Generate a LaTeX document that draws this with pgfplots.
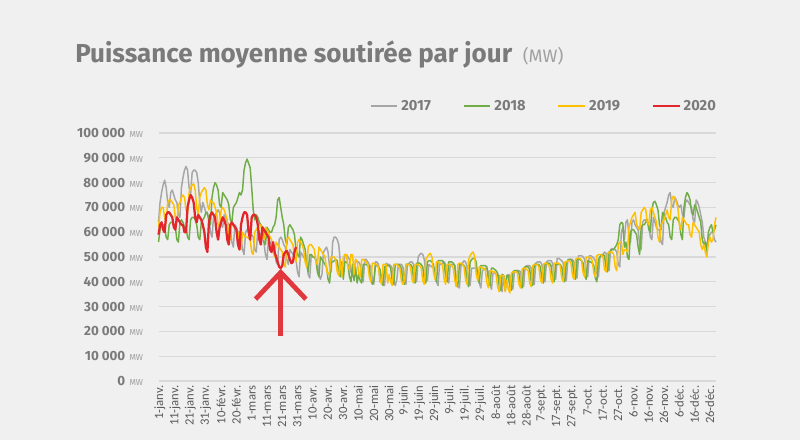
\documentclass[border=0pt]{standalone}
\usepackage{fontspec}
\setmainfont{Fira Sans}
\newfontfamily\carlito{Carlito}
\usepackage{pgfplots}
\usepackage{pgfplotstable}
\pgfplotsset{compat=1.18}
\definecolor{bg}{HTML}{F0F0F0}
\definecolor{txtgray}{HTML}{7A7A7A}
\definecolor{mwgray}{HTML}{A0A0A0}
\definecolor{xtgray}{HTML}{5A5A5A}
\definecolor{gridc}{HTML}{D9D9D9}
\definecolor{c17}{HTML}{A6A6A6}
\definecolor{c18}{HTML}{70AD47}
\definecolor{c19}{HTML}{FFC000}
\definecolor{c20}{HTML}{E3262B}
\definecolor{arrowc}{HTML}{E0383C}
\newcommand\tsp{\hspace{0.22em}}
\newcommand\yl[1]{#1\hspace{3pt}{\mdseries\fontsize{6.5}{7}\selectfont\color{mwgray}MW}}

% x = day of the (leap) year axis, a = 2017, b = 2018, c = 2019, e = 2020 (MW)
\pgfplotstableread{
x a b c e
0 64000 56000 62000 59000
1 72000 61000 68000 63000
2 76000 63000 70000 64000
3 79000 63000 70000 61000
4 81000 62000 66000 60000
5 78000 58000 64000 67000
6 72000 57000 72000 68000
7 70000 63000 73000 68000
8 76000 64000 73000 67000
9 77000 64000 72000 66000
10 75000 63000 71000 62000
11 73000 62000 66000 61000
12 72000 57000 64000 66000
13 67000 56000 71000 65000
14 66000 64000 72000 64000
15 78000 65000 74000 63000
16 82000 64000 75000 63000
17 85000 62000 74000 60000
18 86500 62000 69000 60000
19 85000 58000 68000 70000
20 78000 57000 76000 73000
21 75000 65000 78000 75000
22 84000 66000 79000 74000
23 85000 66000 79500 72000
24 85000 65000 77000 66000
25 84000 63000 70000 64000
26 80000 58000 67000 67000
27 72000 57000 74000 66000
28 68000 64000 76000 65000
29 72000 65000 77000 63000
30 70000 66000 78000 60000
31 68000 68000 77000 54000
32 67000 68000 71000 52000
33 66000 64000 69000 64000
34 60000 63000 73000 67000
35 58000 74000 72000 68000
36 66000 78000 72000 67000
37 67000 80000 70000 66000
38 68000 79000 68000 60000
39 69000 77000 63000 57000
40 68000 71000 62000 62000
41 63000 70000 69000 64000
42 62000 76000 70000 66000
43 67000 75000 69000 65000
44 66000 74000 67000 63000
45 64000 73000 65000 57000
46 63000 71000 59000 55000
47 62000 65000 57000 63000
48 56000 64000 64000 64000
49 54000 70000 63000 63000
50 63000 71000 62000 62000
51 62000 72000 61000 61000
52 60000 74000 60000 55000
53 60000 76000 55000 53000
54 58000 75000 53000 63000
55 53000 77000 60000 66000
56 51000 85000 59000 68000
57 60000 88000 58000 68000
58 61000 89500 58000 67000
59 nan nan nan 60000
60 60000 86000 57000 57000
61 59000 78000 52000 66000
62 58000 69000 51000 67000
63 53000 65000 60000 67000
64 52000 67000 61000 66000
65 61000 66000 62000 63000
66 60000 64000 63000 57000
67 59000 63000 63000 55000
68 58000 62000 58000 62000
69 56000 56000 57000 61000
70 51000 55000 62000 60000
71 49000 62000 61000 59000
72 57000 61000 60000 58000
73 56000 60000 58000 53000
74 55000 60000 57000 52000
75 54000 62000 52000 56000
76 53000 63000 50000 52000
77 48000 66000 56000 50000
78 47000 73000 55000 48000
79 57000 74000 54000 46000
80 58000 70000 53000 45500
81 57000 66000 52000 46500
82 55000 63000 47000 51000
83 54000 57000 46000 52000
84 49000 55000 57000 52500
85 47000 62000 58000 51000
86 53000 63000 57000 49000
87 52000 62000 56000 47500
88 51000 61000 55000 48000
89 50000 59000 50000 52000
90 49000 53000 48000 54000
91 44000 51000 56000 nan
92 42000 50000 57000 nan
93 52000 58000 56000 nan
94 51000 57000 55000 nan
95 50000 55000 53000 nan
96 49000 53000 48000 nan
97 48000 47000 46000 nan
98 43000 44000 54000 nan
99 41500 51000 55000 nan
100 51000 51000 55000 nan
101 50000 50000 54000 nan
102 50000 50000 53000 nan
103 49000 49000 48000 nan
104 48000 44000 47000 nan
105 43000 42000 54000 nan
106 41000 50000 53000 nan
107 43000 49000 52000 nan
108 52000 48000 51000 nan
109 53000 47000 50000 nan
110 54000 46000 45000 nan
111 52000 41000 43000 nan
112 46000 39500 44000 nan
113 44000 48000 50000 nan
114 56000 48000 50000 nan
115 58000 48500 50000 nan
116 58000 49000 49000 nan
117 57000 48500 44000 nan
118 55000 44000 42500 nan
119 48000 42000 49000 nan
120 45000 48000 42000 nan
121 43000 41000 50000 nan
122 51000 48000 51000 nan
123 51000 48000 51000 nan
124 50000 47000 46000 nan
125 49000 42000 45000 nan
126 44000 40000 51000 nan
127 42000 47000 51000 nan
128 42000 40500 43000 nan
129 49000 46000 49000 nan
130 48000 39500 48500 nan
131 48000 43000 43500 nan
132 47000 40500 42000 nan
133 42000 39500 49000 nan
134 40000 47000 49000 nan
135 49000 47000 48500 nan
136 49000 47000 48000 nan
137 48000 46500 47000 nan
138 47000 46000 42000 nan
139 46000 41000 40000 nan
140 41000 39000 47500 nan
141 39000 40500 47500 nan
142 48000 46500 47000 nan
143 48000 46500 47000 nan
144 47000 46000 46000 nan
145 40000 45000 41000 nan
146 43000 40000 39000 nan
147 39500 38500 47000 nan
148 38500 46000 47000 nan
149 47500 46500 47000 nan
150 47000 46500 39500 nan
151 47000 46500 43000 nan
152 46500 45500 40000 nan
153 45500 40500 38500 nan
154 40500 39000 47000 nan
155 38500 47000 47000 nan
156 41000 47000 47000 nan
157 47000 47000 46500 nan
158 47000 46500 45500 nan
159 47000 45500 40500 nan
160 46000 40500 39000 nan
161 41000 39000 40500 nan
162 39000 47000 47000 nan
163 47000 47000 47000 nan
164 47500 47000 47000 nan
165 48000 47000 46000 nan
166 48000 46000 41000 nan
167 47000 41000 39500 nan
168 42000 39500 47000 nan
169 40000 47500 47000 nan
170 50000 47500 47000 nan
171 51000 47500 46500 nan
172 51500 47000 45500 nan
173 51000 46000 40500 nan
174 49000 41000 39000 nan
175 43000 39500 49000 nan
176 40500 48000 50000 nan
177 47000 48500 51000 nan
178 46500 48500 51500 nan
179 46000 48000 50000 nan
180 46000 47000 44000 nan
181 45000 42000 41000 nan
182 40000 40000 48000 nan
183 38500 48500 48000 nan
184 47000 48500 47500 nan
185 47000 48500 47500 nan
186 47500 48500 46500 nan
187 48000 47500 41000 nan
188 47000 42000 39000 nan
189 42000 40000 47000 nan
190 39500 48000 47000 nan
191 47000 48000 47000 nan
192 47000 48000 46500 nan
193 47000 47500 45500 nan
194 46500 46500 40500 nan
195 38500 39500 38000 nan
196 38000 38500 47000 nan
197 37500 47000 47500 nan
198 46500 47000 47500 nan
199 47500 47000 47000 nan
200 48500 46500 46000 nan
201 48000 45500 41000 nan
202 46000 40000 39000 nan
203 41000 38000 49000 nan
204 38500 48000 50500 nan
205 45500 49000 51500 nan
206 45500 49500 52000 nan
207 45500 49500 50000 nan
208 45000 48000 43000 nan
209 44000 42000 40500 nan
210 39500 39500 46000 nan
211 37500 46500 46000 nan
212 44500 46500 45500 nan
213 45000 46500 45500 nan
214 45500 46500 44500 nan
215 45000 46000 39500 nan
216 44000 41000 37500 nan
217 39000 38500 44500 nan
218 37000 45500 44500 nan
219 43500 45500 44000 nan
220 43500 45000 44000 nan
221 43000 44500 43000 nan
222 43000 43500 38000 nan
223 42500 38500 36000 nan
224 38000 36500 42500 nan
225 36000 43000 42500 nan
226 42500 42500 42500 nan
227 36500 36500 36000 nan
228 42500 42500 40500 nan
229 43000 42500 37000 nan
230 42500 38000 35500 nan
231 38500 36500 43500 nan
232 37000 44000 44000 nan
233 44000 44500 44000 nan
234 44500 44500 44000 nan
235 44500 44500 43500 nan
236 44500 43500 39000 nan
237 44000 39000 37500 nan
238 39500 37500 45000 nan
239 38000 45500 45500 nan
240 46000 46000 45500 nan
241 46500 46000 45000 nan
242 46500 46000 44500 nan
243 46500 45000 39500 nan
244 45500 40000 38000 nan
245 40500 38500 46500 nan
246 39000 47000 47000 nan
247 47500 47000 47000 nan
248 48000 47000 47000 nan
249 48000 47000 46000 nan
250 48000 46000 41000 nan
251 47000 41000 39500 nan
252 42000 39500 47000 nan
253 40000 47000 47500 nan
254 48000 47500 47500 nan
255 48500 47500 47000 nan
256 48500 47500 46000 nan
257 48500 46500 41000 nan
258 47500 41500 39500 nan
259 42500 40000 47500 nan
260 41000 47000 47500 nan
261 49500 47000 47500 nan
262 49500 47000 47500 nan
263 49000 47000 46500 nan
264 48500 46000 41500 nan
265 47500 41500 40000 nan
266 42500 40000 48000 nan
267 40500 48000 48000 nan
268 49000 48500 48500 nan
269 49000 49000 48500 nan
270 49000 49000 47500 nan
271 49000 48000 42500 nan
272 48000 43000 41000 nan
273 43000 41000 49000 nan
274 41500 49000 49500 nan
275 50500 49000 49500 nan
276 50500 49000 49500 nan
277 50500 48500 48500 nan
278 50000 47500 43500 nan
279 49000 42500 42000 nan
280 44000 41000 50000 nan
281 42000 48500 50000 nan
282 50500 48000 50000 nan
283 50500 48000 49500 nan
284 50000 47500 48500 nan
285 49500 46500 43500 nan
286 48500 41500 42000 nan
287 43500 40000 50500 nan
288 42000 49000 51000 nan
289 50000 50000 51000 nan
290 50500 51000 51000 nan
291 51000 51000 50000 nan
292 52000 50500 45000 nan
293 51500 45500 44000 nan
294 46000 44000 51500 nan
295 44500 52000 52000 nan
296 53000 52500 52000 nan
297 53500 53000 52000 nan
298 53000 53000 51000 nan
299 53000 54000 46000 nan
300 52000 55000 44500 nan
301 47000 57000 55000 nan
302 46000 63000 56000 nan
303 60000 64000 56000 nan
304 62000 63500 51000 nan
305 57000 54000 53000 nan
306 64000 56000 53000 nan
307 65000 50000 52000 nan
308 59000 49000 62000 nan
309 56000 60000 64000 nan
310 64000 61000 66000 nan
311 65000 61000 67000 nan
312 63000 60000 68000 nan
313 62000 59000 63000 nan
314 61000 54000 62000 nan
315 55000 51000 61000 nan
316 53000 62000 68000 nan
317 64000 63000 69000 nan
318 65000 63000 70000 nan
319 65000 64000 69000 nan
320 64000 65000 64000 nan
321 63000 61000 63000 nan
322 58000 60000 69000 nan
323 57000 69000 70000 nan
324 66000 72000 68000 nan
325 64000 72500 66000 nan
326 62000 71000 64000 nan
327 61000 69000 58000 nan
328 61000 63000 56000 nan
329 56000 61000 63000 nan
330 55000 68000 64000 nan
331 68000 67000 65000 nan
332 70000 66000 67000 nan
333 72000 64000 69000 nan
334 75000 63000 66000 nan
335 76000 58000 65000 nan
336 71000 57000 73000 nan
337 70000 65000 74500 nan
338 74000 66000 74000 nan
339 73000 66000 72000 nan
340 71000 65000 70000 nan
341 70000 64000 63000 nan
342 71000 59000 61000 nan
343 67000 57000 66000 nan
344 66000 70000 65000 nan
345 72000 74000 64000 nan
346 73000 76000 63000 nan
347 72000 75000 63000 nan
348 71000 73000 59000 nan
349 70000 68000 58000 nan
350 65000 67000 64000 nan
351 64000 71000 63000 nan
352 73000 70000 62000 nan
353 72000 68000 61000 nan
354 70000 66000 60000 nan
355 67000 64000 55000 nan
356 64000 57000 53000 nan
357 58000 55000 55000 nan
358 56000 56000 52000 nan
359 54000 52000 50000 nan
360 58000 60000 56000 nan
361 59000 62000 58000 nan
362 60000 63000 56000 nan
363 60000 60000 57000 nan
364 57000 61000 63000 nan
365 56000 63000 66000 nan
}\data

\begin{document}
\begin{tikzpicture}
\useasboundingbox (0,0) rectangle (600pt,330pt);
\fill[bg] (0,0) rectangle (600pt,330pt);
\node[anchor=base west, inner sep=0pt, text=txtgray, font=\fontsize{19.5}{22}\selectfont\bfseries] at (56.25pt,282.75pt)
  {Puissance moyenne soutirée par jour\hspace{8pt}{\mdseries\fontsize{13.5}{15}\selectfont\color{mwgray}(MW)}};
\begin{axis}[
  at={(118.9pt,44.25pt)}, anchor=south west,
  scale only axis, width=418.1pt, height=186pt,
  xmin=0, xmax=365, ymin=0, ymax=100000,
  clip=false,
  axis x line*=bottom, axis y line*=left,
  y axis line style={draw=none},
  x axis line style={draw=gridc, line width=1.5pt},
  major tick length=0pt,
  ymajorgrids, grid style={draw=gridc, line width=0.8pt},
  scaled y ticks=false,
  ytick={0,10000,20000,30000,40000,50000,60000,70000,80000,90000,100000},
  yticklabels={\yl{0},\yl{10\tsp000},\yl{20\tsp000},\yl{30\tsp000},\yl{40\tsp000},\yl{50\tsp000},\yl{60\tsp000},\yl{70\tsp000},\yl{80\tsp000},\yl{90\tsp000},\yl{100\tsp000}},
  yticklabel style={font=\fontsize{10}{12}\selectfont\bfseries, text=txtgray, xshift=-8pt},
  xtick={0,10,20,30,40,50,60,70,80,90,100,110,120,130,140,150,160,170,180,190,200,210,220,230,240,250,260,270,280,290,300,310,320,330,340,350,360},
  xticklabels={1-janv.,11-janv.,21-janv.,31-janv.,10-févr.,20-févr.,1-mars,11-mars,21-mars,31-mars,10-avr.,20-avr.,30-avr.,10-mai,20-mai,30-mai,9-juin,19-juin,29-juin,9-juil.,19-juil.,29-juil.,8-août,18-août,28-août,7-sept.,17-sept.,27-sept.,7-oct.,17-oct.,27-oct.,6-nov.,16-nov.,26-nov.,6-déc.,16-déc.,26-déc.},
  xticklabel style={rotate=90, anchor=east, font=\carlito\fontsize{9.5}{10}\selectfont, text=xtgray, yshift=-1pt},
  legend columns=4,
  legend style={at={(axis description cs:1.005,1.109)}, anchor=east, draw=none, fill=none,
    font=\fontsize{11}{13}\selectfont\bfseries, text=txtgray, inner sep=0pt,
    /tikz/every even column/.append style={column sep=21.5pt}},
  legend image code/.code={\draw[#1, line width=2.2pt] (0pt,0pt) -- (20pt,0pt);},
]
\addplot[c17, line width=1.1pt, line join=round] table[x=x, y=a] {\data};
\addplot[c18, line width=1.1pt, line join=round] table[x=x, y=b] {\data};
\addplot[c19, line width=1.1pt, line join=round] table[x=x, y=c] {\data};
\addplot[c20, line width=1.7pt, line join=round] table[x=x, y=e] {\data};
\legend{2017,2018,2019,2020}
\draw[arrowc, line width=3.6pt] (axis cs:80,18000) -- (axis cs:80,43000);
\draw[arrowc, line width=3.6pt, line join=miter] (axis cs:63.5,33000) -- (axis cs:80,43800) -- (axis cs:96.5,33000);
\end{axis}
\end{tikzpicture}
\end{document}
